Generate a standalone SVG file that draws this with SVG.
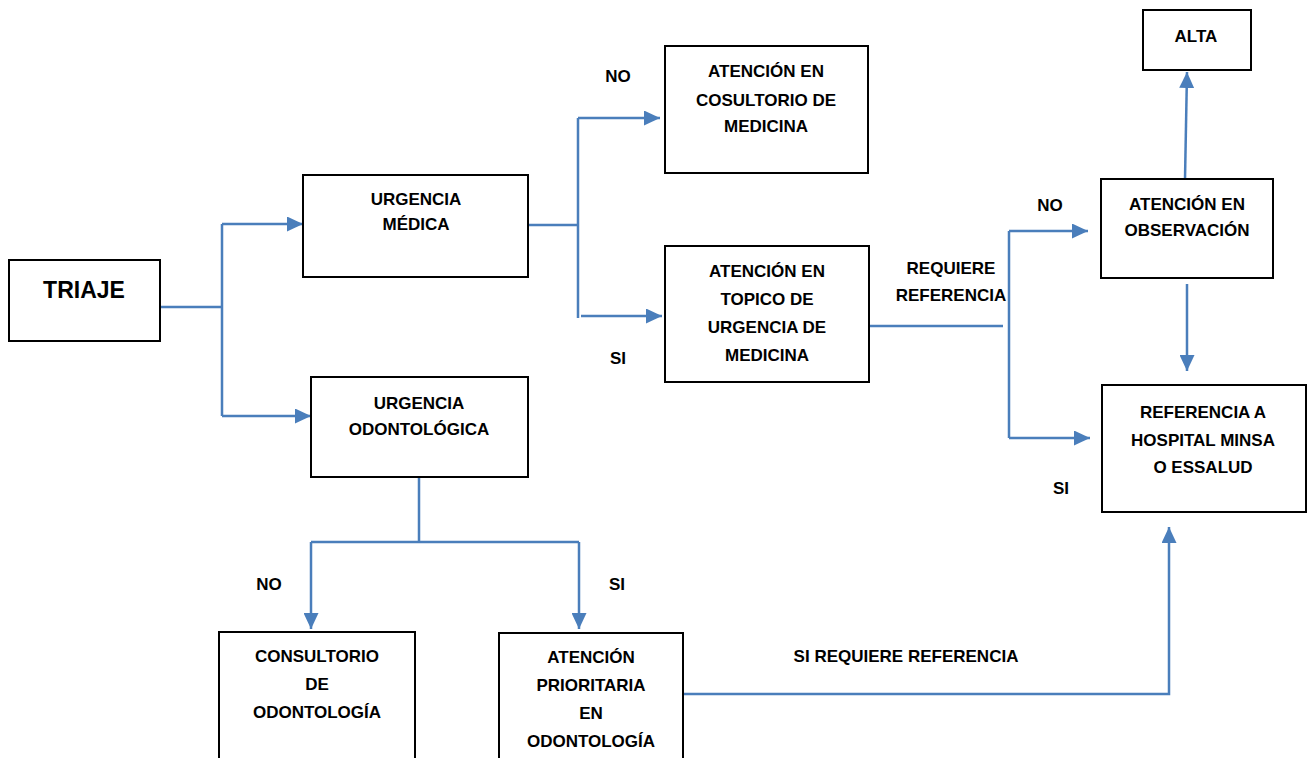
<svg xmlns="http://www.w3.org/2000/svg" width="1314" height="758" viewBox="0 0 1314 758">
<style>
.box{fill:#fff;stroke:#000;stroke-width:2}
.t{font-family:"Liberation Sans",Arial,sans-serif;font-weight:bold;font-size:17px;fill:#000;text-anchor:middle}
.c{fill:none;stroke:#4A7EBB;stroke-width:2.5}
</style>
<defs>
<marker id="ah" markerUnits="userSpaceOnUse" markerWidth="16" markerHeight="15" refX="16" refY="7.5" orient="auto">
<path d="M0,0 L16,7.5 L0,15 z" fill="#4A7EBB"/>
</marker>
</defs>
<rect width="1314" height="758" fill="#fff"/>
<g id="connectors">
<path class="c" d="M160,307 H222 M222,224 V416 M528,225 H578 M578,118 V318 M869,326 H1003 M1009,231 V438 M419,477 V542 M311,542 H579"/>
<path class="c" d="M222,224 H303" marker-end="url(#ah)"/>
<path class="c" d="M222,416 H311" marker-end="url(#ah)"/>
<path class="c" d="M578,118 H660" marker-end="url(#ah)"/>
<path class="c" d="M581,316 H662" marker-end="url(#ah)"/>
<path class="c" d="M1009,231 H1088" marker-end="url(#ah)"/>
<path class="c" d="M1009,438 H1090" marker-end="url(#ah)"/>
<path class="c" d="M1185,179 L1187,72" marker-end="url(#ah)"/>
<path class="c" d="M1187,284 V371" marker-end="url(#ah)"/>
<path class="c" d="M311,542 V629" marker-end="url(#ah)"/>
<path class="c" d="M579,542 V629" marker-end="url(#ah)"/>
<path class="c" d="M683,694 H1169 V527" marker-end="url(#ah)"/>
</g>
<g id="labels">
<text class="t" x="618" y="82">NO</text>
<text class="t" x="618" y="364">SI</text>
<text class="t" x="951" y="274">REQUIERE</text>
<text class="t" x="951" y="301">REFERENCIA</text>
<text class="t" x="1050" y="211">NO</text>
<text class="t" x="1061" y="494">SI</text>
<text class="t" x="269" y="590">NO</text>
<text class="t" x="617" y="590">SI</text>
<text class="t" x="906" y="662">SI REQUIERE REFERENCIA</text>
</g>
<g id="triaje">
<rect class="box" x="9" y="260" width="151" height="81"/>
<text class="t" x="84" y="298" style="font-size:23px">TRIAJE</text>
</g>
<g id="urgencia-medica">
<rect class="box" x="303" y="175" width="225" height="102"/>
<text class="t" x="416" y="205">URGENCIA</text>
<text class="t" x="416" y="230">MÉDICA</text>
</g>
<g id="urgencia-odontologica">
<rect class="box" x="311" y="377" width="217" height="100"/>
<text class="t" x="419" y="409">URGENCIA</text>
<text class="t" x="419" y="435">ODONTOLÓGICA</text>
</g>
<g id="consultorio-medicina">
<rect class="box" x="665" y="46" width="203" height="127"/>
<text class="t" x="766" y="77">ATENCIÓN EN</text>
<text class="t" x="766" y="106">COSULTORIO DE</text>
<text class="t" x="766" y="132">MEDICINA</text>
</g>
<g id="topico">
<rect class="box" x="665" y="246" width="204" height="136"/>
<text class="t" x="767" y="277">ATENCIÓN EN</text>
<text class="t" x="767" y="305">TOPICO DE</text>
<text class="t" x="767" y="333">URGENCIA DE</text>
<text class="t" x="767" y="361">MEDICINA</text>
</g>
<g id="alta">
<rect class="box" x="1143" y="10" width="108" height="60"/>
<text class="t" x="1196" y="42">ALTA</text>
</g>
<g id="observacion">
<rect class="box" x="1101" y="179" width="172" height="99"/>
<text class="t" x="1187" y="210">ATENCIÓN EN</text>
<text class="t" x="1187" y="236">OBSERVACIÓN</text>
</g>
<g id="referencia">
<rect class="box" x="1102" y="385" width="204" height="127"/>
<text class="t" x="1203" y="418">REFERENCIA A</text>
<text class="t" x="1203" y="446">HOSPITAL MINSA</text>
<text class="t" x="1203" y="473">O ESSALUD</text>
</g>
<g id="consultorio-odontologia">
<rect class="box" x="219" y="632" width="196" height="130"/>
<text class="t" x="317" y="662">CONSULTORIO</text>
<text class="t" x="317" y="690">DE</text>
<text class="t" x="317" y="718">ODONTOLOGÍA</text>
</g>
<g id="atencion-prioritaria">
<rect class="box" x="499" y="633" width="184" height="129"/>
<text class="t" x="591" y="663">ATENCIÓN</text>
<text class="t" x="591" y="691">PRIORITARIA</text>
<text class="t" x="591" y="719">EN</text>
<text class="t" x="591" y="747">ODONTOLOGÍA</text>
</g>
</svg>
